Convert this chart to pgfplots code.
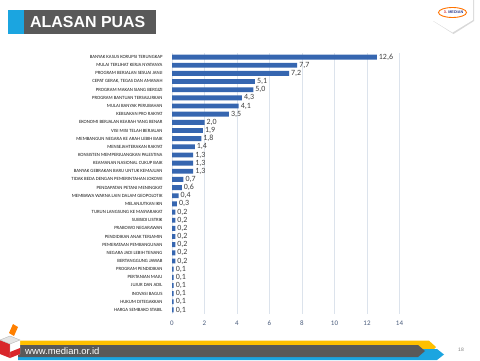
\documentclass[border=0pt]{standalone}
\usepackage{fontspec}
\setmainfont{Carlito}
\newfontfamily\arial{Liberation Sans}
\usepackage{pgfplots}
\pgfplotsset{compat=1.18}
\definecolor{barblue}{HTML}{3666B0}
\definecolor{titlegray}{HTML}{595959}
\definecolor{cyanc}{HTML}{1BA5E0}
\definecolor{yellowc}{HTML}{FFC000}
\definecolor{gridc}{HTML}{DCE3EC}
\definecolor{tickc}{HTML}{4A5C7C}
\definecolor{valc}{HTML}{404040}
\definecolor{labc}{HTML}{1A1A1A}
\definecolor{redc}{HTML}{D9262B}
\definecolor{navyc}{HTML}{2B3A8C}
\begin{document}
\begin{tikzpicture}[x=1bp,y=1bp]
\useasboundingbox (0,0) rectangle (480,360);
\fill[white] (0,0) rectangle (480,360);
% title
\fill[cyanc] (8,326) rectangle (24,350);
\fill[titlegray] (24,326) rectangle (156,350);
\node[anchor=west, text=white, font=\arial\bfseries\fontsize{16}{16}\selectfont, inner sep=0] at (30,338) {ALASAN PUAS};
% logo
\fill[gray!30] (433,360)--(474,360)--(474,339)--(453.5,326)--(433,339)--cycle;
\fill[white] (432,360)--(473,360)--(473,340)--(452.5,327.5)--(432,340)--cycle;
\draw[orange!90!red, line width=0.9pt] (452.5,347.5) ellipse (14 and 5);
\node[font=\arial\bfseries\fontsize{3.8}{3.8}\selectfont, text=navyc, inner sep=0] at (453.5,347.5) {\textcolor{redc}{3.} MEDIAN};
% footer
\fill[yellowc] (18,19.3)--(429,19.3)--(436,13)--(429,6)--(18,6)--cycle;
\fill[cyanc] (18,0)--(437,0)--(444,5.5)--(437,11)--(18,11)--cycle;
\fill[titlegray] (18,15)--(418,15)--(425,9)--(418,3)--(18,3)--cycle;
\node[anchor=west, text=white, font=\arial\fontsize{9.5}{9.5}\selectfont, inner sep=0] at (25,9) {www.median.or.id};
\node[text=gray, font=\arial\fontsize{5}{5}\selectfont, inner sep=0] at (461,10) {18};
% ballot box
\fill[orange] (9,27)--(13,36)--(18,33)--(14,24)--cycle;
\fill[redc] (0,6)--(10,2)--(10,16)--(0,20)--cycle;
\fill[white] (10,2)--(20,6)--(20,20)--(10,16)--cycle;
\fill[redc] (10,2)--(20,6)--(20,12)--(10,8)--cycle;
\fill[gray!20] (0,20)--(10,16)--(20,20)--(10,24)--cycle;
\draw[gray!60, line width=0.3pt] (0,20)--(10,16)--(20,20)--(10,24)--cycle (10,16)--(10,2);
\begin{axis}[
  at={(172bp,46bp)}, anchor=south west, scale only axis,
  width=227.5bp, height=261bp,
  xbar, bar width=0.6,
  xmin=0, xmax=14, ymin=-0.5, ymax=31.5, y dir=reverse,
  xtick={0,2,...,14}, ytick={0,...,31},
  yticklabels={{BANYAK KASUS KORUPSI TERUNGKAP},{MULAI TERLIHAT KERJA NYATANYA},{PROGRAM BERJALAN SESUAI JANJI},{CEPAT GERAK, TEGAS DAN AMANAH},{PROGRAM MAKAN SIANG BERGIZI},{PROGRAM BANTUAN TERSALURKAN},{MULAI BANYAK PERUBAHAN},{KEBIJAKAN PRO RAKYAT},{EKONOMI BERJALAN KEARAH YANG BENAR},{VISI MISI TELAH BERJALAN},{MEMBANGUN NEGARA KE ARAH LEBIH BAIK},{MENSEJAHTERAKAN RAKYAT},{KONSISTEN MEMPERJUANGKAN PALESTINA},{KEAMANAN NASIONAL CUKUP BAIK},{BANYAK GEBRAKAN BARU UNTUK KEMAJUAN},{TIDAK BEDA DENGAN PEMERINTAHAN JOKOWI},{PENDAPATAN PETANI MENINGKAT},{MEMBAWA WARNA LAIN DALAM GEOPOLOTIK},{MELANJUTKAN IKN},{TURUN LANGSUNG KE MASYARAKAT},{SUBSIDI LISTRIK},{PRABOWO NEGARAWAN},{PENDIDIKAN ANAK TERJAMIN},{PEMERATAAN PEMBANGUNAN},{NEGARA JADI LEBIH TENANG},{BERTANGGUNG JAWAB},{PROGRAM PENDIDIKAN},{PERTANIAN MAJU},{JUJUR DAN ADIL},{INOVASI BAGUS},{HUKUM DITEGAKKAN},{HARGA SEMBAKO STABIL}},
  axis line style={draw=none},
  major tick length=0,
  xmajorgrids, grid style={color=gridc, line width=0.5pt},
  /pgf/number format/assume math mode=true,
  xticklabel style={font=\fontsize{7}{7}\selectfont, text=tickc, yshift=-3bp},
  yticklabel style={font=\fontsize{4.8}{4.8}\selectfont, text=labc, xshift=-6bp},
  point meta=x,
  nodes near coords={\pgfmathprintnumber[fixed,fixed zerofill,precision=1,use comma]{\pgfplotspointmeta}},
  nodes near coords style={font=\fontsize{8}{8}\selectfont, text=valc, anchor=west, inner xsep=2bp},
]
\addplot[fill=barblue, draw=none] coordinates {
(12.6,0) (7.7,1) (7.2,2) (5.1,3) (5.0,4) (4.3,5) (4.1,6) (3.5,7)
(2.0,8) (1.9,9) (1.8,10) (1.4,11) (1.3,12) (1.3,13) (1.3,14) (0.7,15)
(0.6,16) (0.4,17) (0.3,18) (0.2,19) (0.2,20) (0.2,21) (0.2,22) (0.2,23)
(0.2,24) (0.2,25) (0.1,26) (0.1,27) (0.1,28) (0.1,29) (0.1,30) (0.1,31)};
\end{axis}
\end{tikzpicture}
\end{document}
